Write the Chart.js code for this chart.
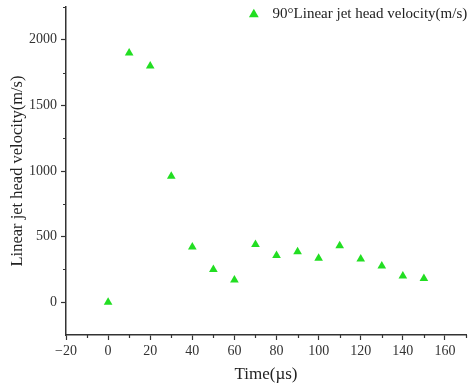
<!DOCTYPE html>
<html>
<head>
<meta charset="utf-8">
<script src="https://cdn.jsdelivr.net/npm/chart.js@4"></script>
<style>
  html, body { margin: 0; padding: 0; background: #fff; }
  #wrap { width: 471px; height: 389px; }
</style>
</head>
<body>
<div id="wrap"><canvas id="chart" width="471" height="389"></canvas></div>
<script>
// time in microseconds
const times = [0, 10, 20, 30, 40, 50, 60, 70, 80, 90, 100, 110, 120, 130, 140, 150];
// jet head velocity in m/s
const velocities = [0, 1900, 1800, 960, 420, 250, 170, 440, 355, 385, 335, 430, 330, 275, 200, 180];
const xTicks = [-20, 0, 20, 40, 60, 80, 100, 120, 140, 160];
const yTicks = [0, 500, 1000, 1500, 2000];

const seriesLabel = '90°Linear jet head velocity(m/s)';
const axisColor = '#333';
const pointColor = 'rgb(34, 222, 34)';
const fontFamily = '"Liberation Serif", "Times New Roman", serif';

// legend sits inside the plot at the top right, so it should not take layout space
const floatingLegend = {
    id: 'floatingLegend',
    beforeLayout(chart) {
        const lg = chart.legend;
        if (lg && !lg._floating) {
            const fit = lg.fit.bind(lg);
            lg.fit = function() {
                fit();
                this._realHeight = this.height;
                this.height = 0;
            };
            lg._floating = true;
        }
    },
    afterLayout(chart) {
        const lg = chart.legend;
        if (lg && lg._realHeight) {
            lg.height = lg._realHeight;
            lg.bottom = lg.top + lg._realHeight;
        }
    }
};

// draw the short minor ticks between labelled ones
const minorTicks = {
    id: 'minorTicks',
    afterDraw(chart) {
        const ctx = chart.ctx;
        const x = chart.scales.x, y = chart.scales.y;
        ctx.save();
        ctx.strokeStyle = axisColor;
        ctx.lineWidth = 1.2;
        ctx.beginPath();
        for (let v = -10; v <= 170; v += 20) {
            const px = Math.round(x.getPixelForValue(v)) + 0.5;
            ctx.moveTo(px, y.bottom);
            ctx.lineTo(px, y.bottom + 3);
        }
        for (let v = 250; v <= 2250; v += 500) {
            const py = Math.round(y.getPixelForValue(v)) + 0.5;
            ctx.moveTo(x.left, py);
            ctx.lineTo(x.left - 3, py);
        }
        ctx.stroke();
        ctx.restore();
    }
};

new Chart(document.getElementById('chart'), {
    type: 'scatter',
    data: {
        datasets: [{
            label: seriesLabel,
            data: times.map((t, i) => ({ x: t, y: velocities[i] })),
            pointStyle: 'triangle',
            pointRadius: 5,
            backgroundColor: pointColor,
            borderColor: pointColor,
            borderWidth: 0
        }]
    },
    options: {
        responsive: false,
        animation: false,
        layout: { padding: { top: 7, right: 0, left: 0, bottom: 0 } },
        plugins: {
            legend: {
                position: 'top',
                align: 'end',
                labels: {
                    usePointStyle: true,
                    boxWidth: 15,
                    boxHeight: 8,
                    padding: 0,
                    color: '#222',
                    font: { family: fontFamily, size: 15, lineHeight: 1.3 },
                    generateLabels: chart => {
                        const items = Chart.defaults.plugins.legend.labels.generateLabels(chart);
                        items.forEach(it => { it.text = ' ' + it.text + ' '; });
                        return items;
                    }
                }
            },
            tooltip: { enabled: false }
        },
        scales: {
            x: {
                type: 'linear',
                min: -20,
                max: 170,
                afterBuildTicks: s => { s.ticks = xTicks.map(v => ({ value: v })); },
                afterFit: s => { s.height = 54; },
                border: { color: axisColor, width: 1.5 },
                grid: { drawOnChartArea: false, color: axisColor, tickLength: 5, tickWidth: 1.2 },
                ticks: {
                    color: '#333',
                    padding: 3,
                    maxRotation: 0,
                    font: { family: fontFamily, size: 14 },
                    callback: v => v < 0 ? '\u2212' + Math.abs(v) : String(v)
                },
                title: {
                    display: true,
                    text: 'Time(\u00b5s)',
                    color: '#222',
                    padding: { top: 7 },
                    font: { family: fontFamily, size: 17 }
                }
            },
            y: {
                type: 'linear',
                min: -250,
                max: 2250,
                afterBuildTicks: s => { s.ticks = yTicks.map(v => ({ value: v })); },
                afterFit: s => {
                    s.width = 66;
                    s.paddingTop = 0;
                    s.paddingBottom = 0;
                },
                border: { color: axisColor, width: 1.5 },
                grid: { drawOnChartArea: false, color: axisColor, tickLength: 5, tickWidth: 1.2 },
                ticks: {
                    color: '#333',
                    padding: 4,
                    font: { family: fontFamily, size: 14 },
                    callback: v => String(v)
                },
                title: {
                    display: true,
                    text: 'Linear jet head velocity(m/s)',
                    color: '#222',
                    padding: { top: 8, bottom: 2 },
                    font: { family: fontFamily, size: 16.5 }
                }
            }
        }
    },
    plugins: [floatingLegend, minorTicks]
});
</script>
</body>
</html>
